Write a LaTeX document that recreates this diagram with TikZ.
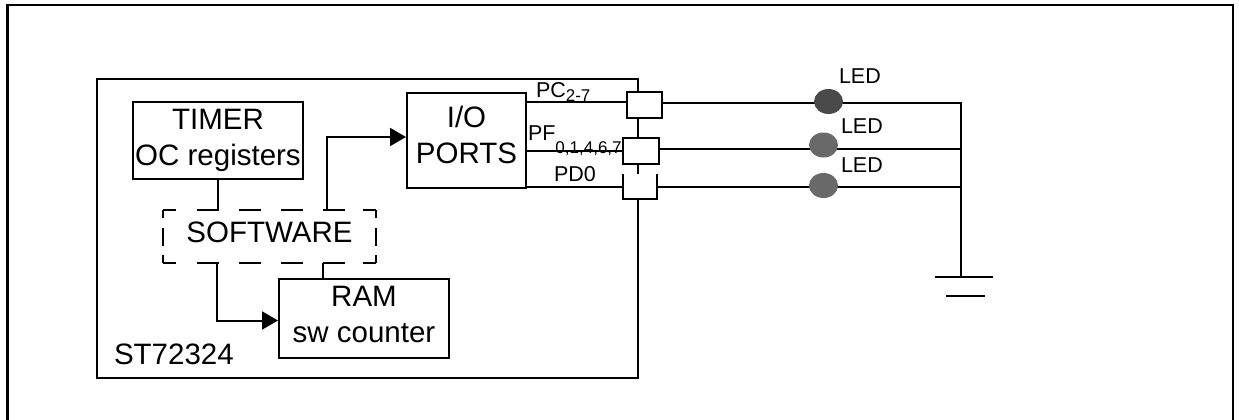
\documentclass[tikz,border=0pt]{standalone}
\usepackage{fontspec}
\setmainfont{Liberation Sans}
\usetikzlibrary{arrows.meta,shapes.geometric}
\definecolor{leddark}{HTML}{4A4A4A}
\definecolor{ledgrey}{HTML}{696969}
\newcommand{\portsub}[2]{\raisebox{-#1pt}{\fontsize{17}{17}\selectfont #2}}

\begin{document}
\begin{tikzpicture}[x=1pt,y=-1pt,line width=2pt,
  block/.style={draw,rectangle,inner sep=0pt,align=center,font=\fontsize{29.5}{36}\selectfont},
  port/.style={draw,rectangle,fill=white,inner sep=0pt},
  led/.style={ellipse,inner sep=0pt,outer sep=0pt,minimum width=29pt,minimum height=25pt},
  lbl/.style={inner sep=0pt,anchor=base west,font=\fontsize{21.5}{22}\selectfont},
  tip/.style={-{Triangle[length=16pt,width=18pt]}},
  dashh/.style={dash pattern=on 13pt off 21pt on 22pt off 20pt on 22pt off 20pt on 22pt off 20pt on 22pt off 18pt on 13pt off 50pt},
  dashv/.style={dash pattern=on 8pt off 10pt on 18pt off 9pt on 8pt off 50pt}]
\useasboundingbox (0,0) rectangle (1239,420);

% frame
\draw[line width=2.7pt] (7.5,420) |- (1233,5) -- (1233,420);

\node[block,minimum width=541pt,minimum height=299pt] (chip) at (367.5,228.5) {};
\node[lbl,font=\fontsize{29.5}{36}\selectfont] (chipname) at (113,364) {ST72324};

\node[block,minimum width=170pt,minimum height=77pt] (timer) at (218,140.5) {TIMER\\OC registers};
\node[block,minimum width=119pt,minimum height=95pt,text depth=12pt] (io) at (466.5,140.5) {I/O\\PORTS};
\node[block,draw=none,outer sep=0pt,minimum width=213pt,minimum height=53pt,text depth=8pt] (sw) at (269.5,236.5) {SOFTWARE};
\node[block,minimum width=170pt,minimum height=79pt,text depth=8pt] (ram) at (364,318.5) {RAM\\sw counter};

% dashed software box
\path[draw,dashh] (sw.north west) -- (sw.north east);
\path[draw,dashh] (sw.south west) -- (sw.south east);
\path[draw,dashv] (sw.north west) -- (sw.south west);
\path[draw,dashv] (sw.north east) -- (sw.south east);

\path[draw] (timer.south) -- (timer.south |- sw.north);
\path[draw,tip] ([xshift=57.5pt]sw.north) |- ([yshift=3.5pt]io.west);
\path[draw] ([xshift=53.5pt]sw.south) -- ([xshift=53.5pt]sw.south |- ram.north);
\path[draw,tip] ([xshift=-52.5pt]sw.south) |- ([yshift=-2pt]ram.west);

% port labels
\node[lbl] (pclbl) at (535,97) {PC\portsub{4}{2-7}};
\node[lbl] (pflbl) at (527,140) {PF\portsub{13}{0,1,4,6,7}};
\node[lbl] (pdlbl) at (553,181) {PD0};

% ports
\node[port,minimum width=35pt,minimum height=26pt] (pc) at (644.5,105) {};
\node[port,minimum width=36pt,minimum height=26pt] (pf) at (641,151) {};
\node[port,draw=none,outer sep=0pt,minimum width=34pt,minimum height=25pt] (pd) at (640,186.5) {};
\path[draw] (pd.north west) -- (pd.south west) -- (pd.south east) -- (pd.north east);

\coordinate (pcin) at ([yshift=3pt]pc.west);
\coordinate (pcout) at ([yshift=2.5pt]pc.east);
\coordinate (pfout) at ([yshift=2pt]pf.east);
\coordinate (gnd) at (961,277);

\path[draw] (io.east |- pcin) -- (pcin);
\path[draw] (io.east |- pf.west) -- (pf.west);
\path[draw] (io.east |- pd.west) -- (pd.west);

\path[draw] (pcout) -- (pcout -| gnd) -- (gnd);
\path[draw] (pfout) -- (pfout -| gnd);
\path[draw] (pd.east) -- (pd.east -| gnd);
\path[draw] ([xshift=-26pt]gnd) -- ([xshift=32pt]gnd);
\path[draw] ([xshift=-15pt,yshift=-19pt]gnd) -- ([xshift=24pt,yshift=-19pt]gnd);

% leds
\node[led,fill=leddark] (led1) at (828.5,101.5) {};
\node[led,fill=ledgrey] (led2) at (823.5,145) {};
\node[led,fill=ledgrey] (led3) at (823.5,185.5) {};
\node[lbl] (led1lbl) at (838,84) {LED};
\node[lbl] (led2lbl) at (840,133) {LED};
\node[lbl] (led3lbl) at (840,172) {LED};
\end{tikzpicture}
\end{document}
